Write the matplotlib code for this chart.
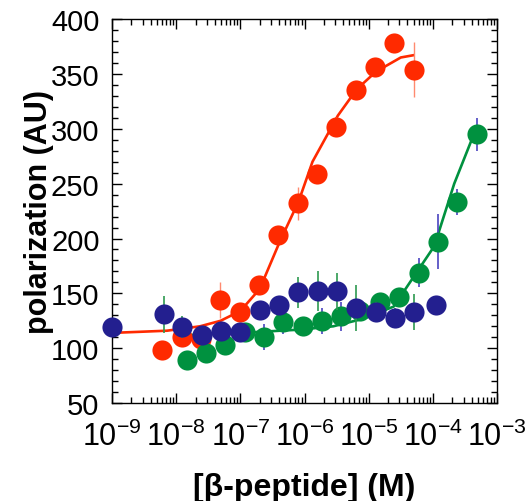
import numpy as np
import matplotlib
matplotlib.use("Agg")
import matplotlib.pyplot as plt
from matplotlib.ticker import LogLocator, MultipleLocator

plt.rcParams['font.family'] = ['Liberation Sans', 'DejaVu Sans']
plt.rcParams['mathtext.fontset'] = 'custom'
plt.rcParams['mathtext.rm'] = 'Liberation Sans'
plt.rcParams['mathtext.it'] = 'Liberation Sans:italic'
plt.rcParams['mathtext.bf'] = 'Liberation Sans:bold'

# ---- data ----
red_x = [6.1e-9, 1.22e-8, 2.44e-8, 4.88e-8, 9.77e-8, 1.95e-7, 3.91e-7, 7.81e-7,
         1.56e-6, 3.13e-6, 6.25e-6, 1.25e-5, 2.5e-5, 5e-5]
red_y = [98, 110, 108, 144, 133, 158, 203, 232, 259, 302, 335, 356, 378, 354]
red_err = [3, 4, 4, 16, 4, 5, 4, 15, 5, 9, 5, 5, 4, 25]

green_x = [1.45e-8, 2.9e-8, 5.8e-8, 1.16e-7, 2.3e-7, 4.6e-7, 9.3e-7, 1.86e-6,
           3.7e-6, 7.4e-6, 1.5e-5, 3.0e-5, 6.0e-5, 1.2e-4, 2.4e-4, 4.8e-4]
green_y = [89, 96, 103, 115, 110, 124, 120, 125, 129, 134, 142, 147, 169, 197, 233, 295]
green_err = [5, 9, 5, 6, 12, 11, 5, 12, 13, 6, 5, 5, 13, 25, 12, 15]

blue_x = [1.0e-9, 6.4e-9, 1.25e-8, 2.5e-8, 5.0e-8, 1.0e-7, 2.0e-7, 4.0e-7, 8.0e-7,
          1.6e-6, 3.2e-6, 6.4e-6, 1.28e-5, 2.56e-5, 5.0e-5, 1.1e-4]
blue_y = [119, 131, 119, 112, 116, 115, 135, 139, 151, 152, 152, 137, 133, 128, 133, 139]
blue_err = [3, 17, 10, 6, 6, 5, 8, 9, 14, 18, 17, 21, 9, 9, 16, 4]

red_fit_x = [1e-9, 2.75e-9, 7.2e-9, 2.35e-8, 4.9e-8, 1e-7, 2e-7, 4.1e-7, 8.1e-7,
             1.33e-6, 3.3e-6, 6.5e-6, 1.29e-5, 3.16e-5, 4.9e-5]
red_fit_y = [114, 115, 116, 120, 125, 134, 154, 197, 234, 270, 312, 336, 352, 365, 367]

green_fit_x = [1.5e-8, 1e-7, 8.7e-7, 2.8e-6, 8.3e-6, 2.45e-5, 5e-5, 1.05e-4, 2.15e-4, 4.7e-4]
green_fit_y = [112, 114, 117, 120, 127, 138, 165, 193, 250, 300]

red_c = '#ff2a00'
green_c = '#00913f'
blue_c = '#231f8f'

fig = plt.figure(figsize=(5.26, 5.02), dpi=100)
ax = fig.add_axes([0.213, 0.195, 0.732, 0.765])

ax.plot(red_fit_x, red_fit_y, color=red_c, lw=1.9, zorder=2)
ax.plot(green_fit_x, green_fit_y, color=green_c, lw=1.9, zorder=2)

ms = 14.5
ax.errorbar(red_x, red_y, yerr=red_err, fmt='none', ecolor='#ff8a70', elinewidth=1, zorder=3)
ax.plot(red_x, red_y, 'o', color=red_c, ms=ms, mec='none', zorder=4, clip_on=False)
ax.errorbar(green_x, green_y, yerr=green_err, fmt='none', ecolor='#4a44c0', elinewidth=1.2, zorder=5)
ax.plot(green_x, green_y, 'o', color=green_c, ms=ms, mec='none', zorder=6, clip_on=False)
ax.errorbar(blue_x, blue_y, yerr=blue_err, fmt='none', ecolor='#2e9a50', elinewidth=1.2, zorder=7)
ax.plot(blue_x, blue_y, 'o', color=blue_c, ms=ms, mec='none', zorder=8, clip_on=False)

ax.set_xscale('log')
ax.set_xlim(1e-9, 1e-3)
ax.set_ylim(50, 400)
ax.xaxis.set_major_locator(LogLocator(base=10, numticks=20))
ax.xaxis.set_minor_locator(LogLocator(base=10, subs=np.arange(2, 10), numticks=100))
ax.yaxis.set_major_locator(MultipleLocator(50))
ax.yaxis.set_minor_locator(MultipleLocator(10))

ax.tick_params(which='both', direction='in', top=True, right=True, width=1)
ax.tick_params(which='major', length=7)
ax.tick_params(which='minor', length=4)
ax.tick_params(axis='y', which='major', labelsize=21, pad=9)
ax.tick_params(axis='x', which='major', labelsize=22, pad=13)
for s in ax.spines.values():
    s.set_linewidth(1)

ax.set_xlabel('[β-peptide] (M)', fontsize=23, fontweight='bold', labelpad=14)
ax.set_ylabel('polarization (AU)', fontsize=22, fontweight='bold', labelpad=-2)

fig.savefig('out.png', dpi=100)
